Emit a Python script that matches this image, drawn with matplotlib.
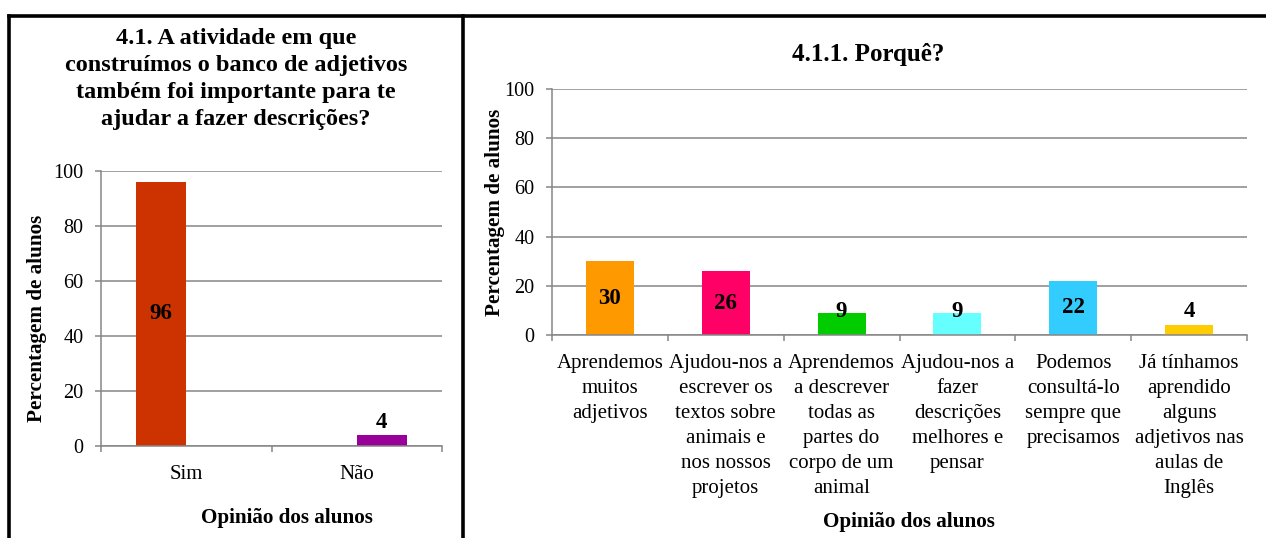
import numpy as np
import matplotlib
matplotlib.use("Agg")
import matplotlib.pyplot as plt
from matplotlib.lines import Line2D

plt.rcParams['font.family'] = ['Liberation Serif', 'DejaVu Serif']

# --- data ---------------------------------------------------------------
left_title = ("4.1. A atividade em que\nconstruímos o banco de adjetivos\n"
              "também foi importante para te\najudar a fazer descrições?")
left_cats = ["Sim", "Não"]
left_vals = [96, 4]
left_colors = ["#CC3300", "#990099"]

right_title = "4.1.1. Porquê?"
right_cats = [
    "Aprendemos\nmuitos\nadjetivos",
    "Ajudou-nos a\nescrever os\ntextos sobre\nanimais e\nnos nossos\nprojetos",
    "Aprendemos\na descrever\ntodas as\npartes do\ncorpo de um\nanimal",
    "Ajudou-nos a\nfazer\ndescrições\nmelhores e\npensar",
    "Podemos\nconsultá-lo\nsempre que\nprecisamos",
    "Já tínhamos\naprendido\nalguns\nadjetivos nas\naulas de\nInglês",
]
right_vals = [30, 26, 9, 9, 22, 4]
right_colors = ["#FF9900", "#FF0066", "#00CC00", "#66FFFF", "#33CCFF", "#FFCC00"]

ylabel = "Percentagem de alunos"
xlabel = "Opinião dos alunos"

W, H = 1266, 538
fig = plt.figure(figsize=(W / 100, H / 100), dpi=100)


def px(x, y):
    # pixel (from top-left) -> figure fraction
    return x / W, 1 - y / H


def make_axes(x0, x1, ytop, ybot):
    return fig.add_axes([x0 / W, 1 - ybot / H, (x1 - x0) / W, (ybot - ytop) / H])


grid_c = "#868686"
tick_fs = 14.5
cat_fs = 15
lab_fs = 16.5
axt_fs = 15.2


def style(ax, n):
    ax.set_ylim(0, 100)
    ax.set_yticks(np.arange(0, 101, 20))
    ax.set_xlim(-0.5, n - 0.5)
    ax.set_xticks(np.arange(n + 1) - 0.5)
    ax.set_xticklabels([])
    ax.yaxis.grid(True, color=grid_c, lw=1.1)
    ax.set_axisbelow(True)
    for s in ["top", "right"]:
        ax.spines[s].set_visible(False)
    for s in ["left", "bottom"]:
        ax.spines[s].set_color(grid_c)
        ax.spines[s].set_linewidth(1.1)
    ax.tick_params(axis="both", which="major", color=grid_c, width=1.1, length=4.5,
                   labelsize=tick_fs, direction="out")
    ax.tick_params(axis="y", pad=8)
    ax.tick_params(axis="x", which="minor", length=0, labelsize=cat_fs, pad=13.5)


# --- left chart -----------------------------------------------------------
axl = make_axes(101, 442, 170.7, 446)
style(axl, len(left_cats))
nl = len(left_cats)
bw = 0.293
offs = (np.arange(nl) - (nl - 1) / 2) * bw
xl = np.arange(nl) + offs
axl.bar(xl, left_vals, width=bw, color=left_colors)
axl.set_xticks(np.arange(nl), minor=True)
axl.set_xticklabels(left_cats, minor=True)
for x, v in zip(xl, left_vals):
    axl.text(x, max(v / 2, 8.4), str(v), ha="center", va="center",
             fontsize=lab_fs, fontweight="bold")

fig.text(*px(236, 28), left_title, ha="center", va="top", fontsize=17.5,
         fontweight="bold", linespacing=1.37)
fig.text(*px(37, 318), ylabel, ha="center", va="center", rotation=90,
         fontsize=axt_fs, fontweight="bold")
fig.text(*px(287, 518), xlabel, ha="center", va="center", fontsize=axt_fs,
         fontweight="bold")

# --- right chart ----------------------------------------------------------
axr = make_axes(552, 1247, 89, 335)
nr = len(right_cats)
style(axr, nr)
xr = np.arange(nr)
axr.bar(xr, right_vals, width=0.414, color=right_colors)
axr.set_xticks(xr, minor=True)
axr.set_xticklabels(right_cats, minor=True, linespacing=1.43, va="top")
for x, v in zip(xr, right_vals):
    axr.text(x, max(v / 2, 9.4), str(v), ha="center", va="center",
             fontsize=lab_fs, fontweight="bold")

fig.text(*px(868, 55), right_title, ha="center", va="center", fontsize=18,
         fontweight="bold")
fig.text(*px(495, 212), ylabel, ha="center", va="center", rotation=90,
         fontsize=axt_fs, fontweight="bold")
fig.text(*px(909, 522), xlabel, ha="center", va="center", fontsize=axt_fs,
         fontweight="bold")

# --- panel borders --------------------------------------------------------
for (xa, ya), (xb, yb) in [((8.5, 15.5), (1266, 15.5)),
                           ((8.5, 15.5), (8.5, 538)),
                           ((463, 15.5), (463, 538))]:
    (fx0, fy0), (fx1, fy1) = px(xa, ya), px(xb, yb)
    fig.add_artist(Line2D([fx0, fx1], [fy0, fy1], color="black", lw=2.6,
                          transform=fig.transFigure, solid_capstyle="projecting"))

fig.savefig("out.png", dpi=100)
